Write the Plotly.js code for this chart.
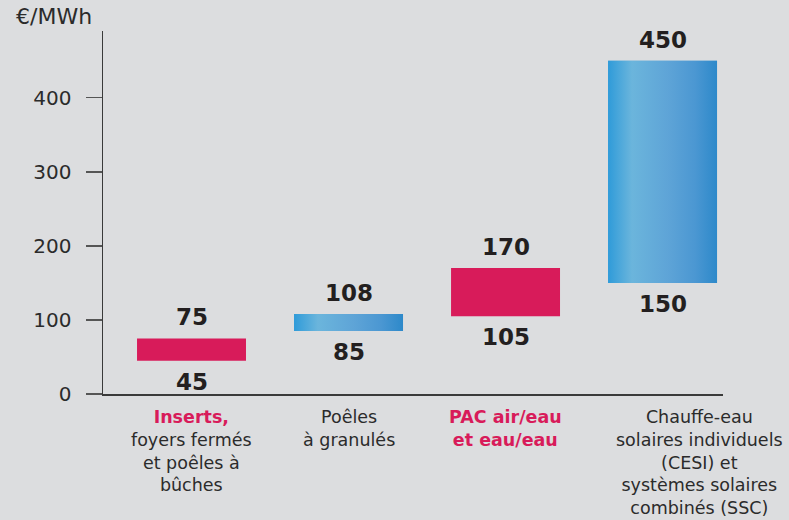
<!DOCTYPE html>
<html>
<head>
<meta charset="utf-8">
<script src="https://cdn.plot.ly/plotly-3.0.1.min.js"></script>
<style>html,body{margin:0;padding:0;background:#dcdddf;}#chart{width:789px;height:520px;}</style>
</head>
<body>
<div id="chart"></div>
<script>
// ---- data ----
const categories = [
  '<b style="color:#d81b5a">Inserts,</b><br>foyers fermés<br>et poêles à<br>bûches',
  'Poêles<br>à granulés',
  '<b style="color:#d81b5a">PAC air/eau<br>et eau/eau</b>',
  'Chauffe-eau<br>solaires individuels<br>(CESI) et<br>systèmes solaires<br>combinés (SSC)'
];
const lowValues  = [45, 85, 105, 150];
const highValues = [75, 108, 170, 450];
const barKinds   = ['red', 'blue', 'red', 'blue'];
const yTickVals  = [0, 100, 200, 300, 400];
const yUnit = '€/MWh';

// ---- styles ----
const RED = '#d81b5a';
const BLUE = '#55a6d8';
const BLUE_SCALE = [[0,'#2f9bd9'],[0.22,'#6bb5dc'],[0.55,'#5ea4d7'],[0.8,'#4b97d2'],[1,'#2d89ca']];
const DARK = '#231f20';
const TEXT = '#2b2b2b';
const BG = '#dcdddf';
const W = 0.694;
const FONT = '"DejaVu Sans", "Noto Sans", sans-serif';

const idx = categories.map((_, i) => i);
const traces = [{
  type: 'bar',
  x: idx,
  base: lowValues,
  y: highValues.map((h, i) => h - lowValues[i]),
  width: W,
  marker: {color: barKinds.map(k => k === 'red' ? RED : BLUE), line: {width: 0}},
  hoverinfo: 'skip',
  showlegend: false
}];

idx.forEach(i => {
  if (barKinds[i] !== 'blue') return;
  const x0 = i - W / 2, x1 = i + W / 2;
  traces.push({
    type: 'scatter',
    mode: 'lines',
    x: [x0, x1, x1, x0, x0],
    y: [lowValues[i], lowValues[i], highValues[i], highValues[i], lowValues[i]],
    fill: 'toself',
    line: {width: 0, color: 'rgba(0,0,0,0)'},
    fillgradient: {type: 'horizontal', colorscale: BLUE_SCALE, start: x0, stop: x1},
    hoverinfo: 'skip',
    showlegend: false
  });
});

const annotations = [];
idx.forEach(i => {
  annotations.push({x: i, y: highValues[i], xref: 'x', yref: 'y', text: '<b>' + highValues[i] + '</b>',
    showarrow: false, yanchor: 'middle', yshift: 21, font: {family: FONT, size: 23, color: DARK}});
  annotations.push({x: i, y: lowValues[i], xref: 'x', yref: 'y', text: '<b>' + lowValues[i] + '</b>',
    showarrow: false, yanchor: 'middle', yshift: -21, font: {family: FONT, size: 23, color: DARK}});
  annotations.push({x: i, y: 0, xref: 'x', yref: 'paper', text: categories[i], showarrow: false,
    yanchor: 'top', yshift: -11, xshift: i === categories.length - 1 ? 37 : 0, align: 'center',
    font: {family: FONT, size: 17.5, color: TEXT}});
});
annotations.push({x: 0, y: 1, xref: 'paper', yref: 'paper', text: yUnit, showarrow: false,
  xanchor: 'left', yanchor: 'bottom', xshift: -89, yshift: 0,
  font: {family: FONT, size: 22, color: TEXT}});

const layout = {
  width: 789, height: 520,
  paper_bgcolor: BG, plot_bgcolor: BG,
  margin: {l: 103, r: 66, t: 31, b: 125.5},
  showlegend: false,
  xaxis: {
    range: [-0.5637, 3.385], showgrid: false, zeroline: false,
    showline: true, linecolor: '#3a3a3a', linewidth: 1.5,
    ticks: '', showticklabels: false, fixedrange: true
  },
  yaxis: {
    range: [0, 490], showgrid: false, zeroline: false,
    showline: true, linecolor: '#3a3a3a', linewidth: 1.5,
    tickvals: yTickVals, ticktext: yTickVals.map(String),
    ticks: 'outside', ticklen: 16, tickcolor: '#555', tickwidth: 1.5,
    ticklabelstandoff: 10,
    tickfont: {family: FONT, size: 20, color: TEXT}, fixedrange: true
  },
  annotations: annotations
};

Plotly.newPlot('chart', traces, layout, {displayModeBar: false, staticPlot: true});
</script>
</body>
</html>
